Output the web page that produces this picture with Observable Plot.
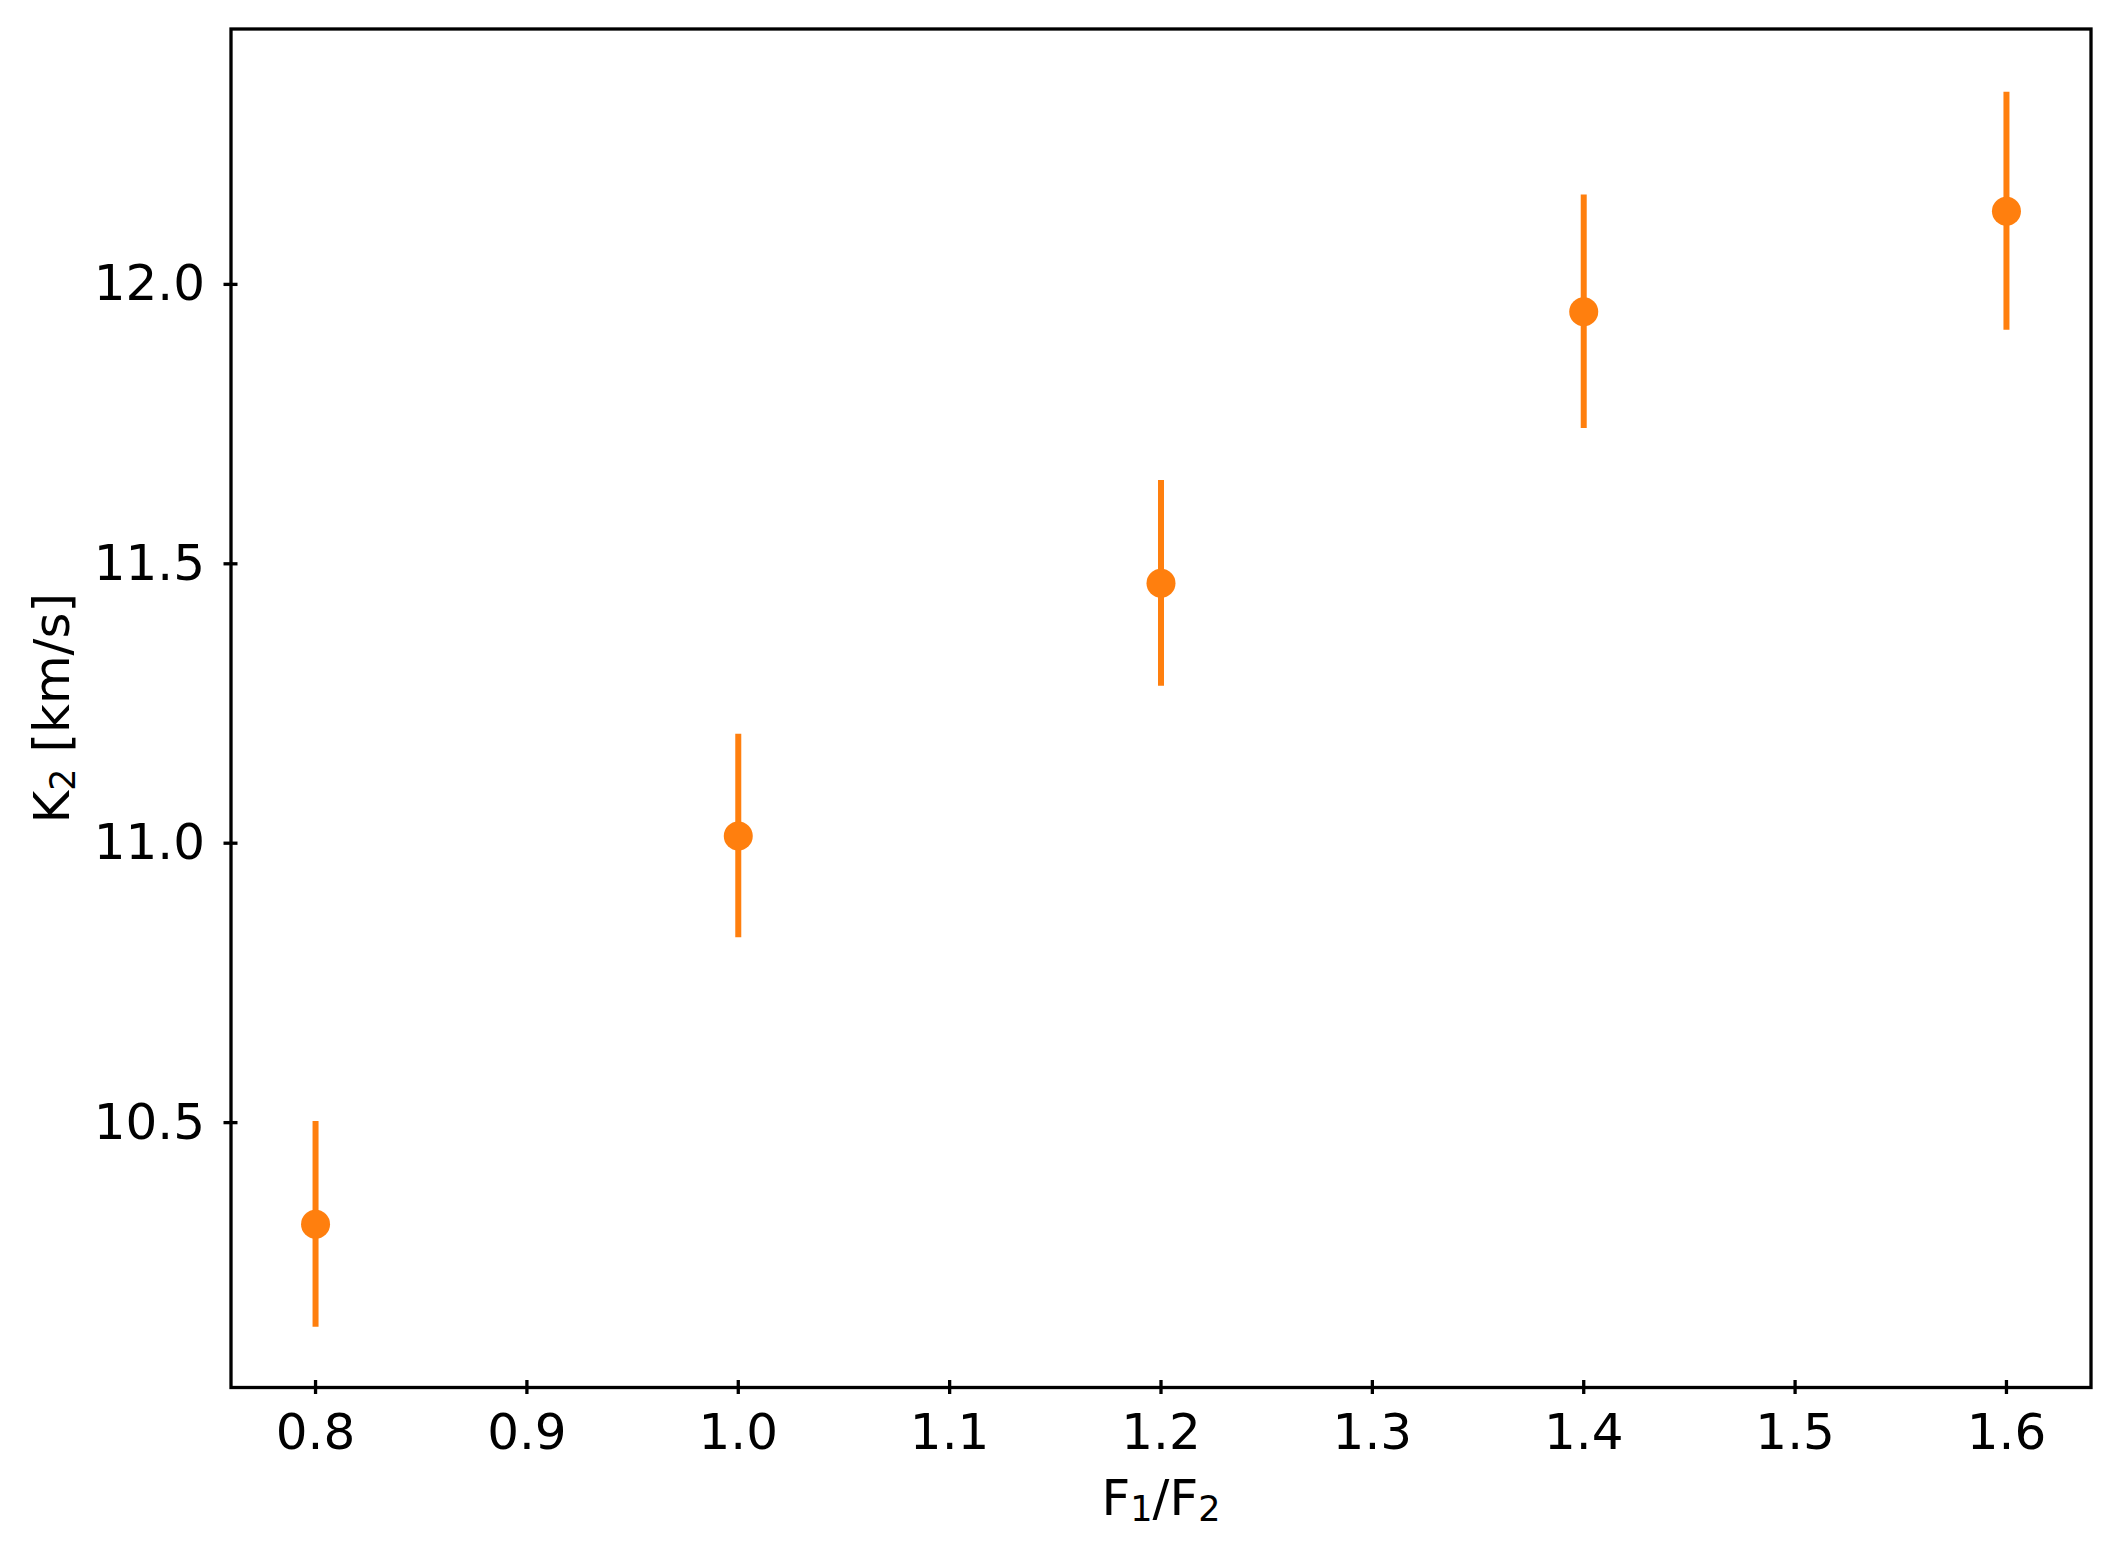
<!DOCTYPE html>
<html>
<head>
<meta charset="utf-8">
<script src="https://cdn.jsdelivr.net/npm/d3@7"></script>
<script src="https://cdn.jsdelivr.net/npm/@observablehq/plot@0.6"></script>
<style>
  html, body { margin: 0; padding: 0; background: #ffffff; }
  #chart { width: 2119px; height: 1553px; }
</style>
</head>
<body>
<div id="chart"></div>
<script>
// ---- data ----
const fluxRatio = [0.8, 1.0, 1.2, 1.4, 1.6];
const k2 = [10.318, 11.013, 11.465, 11.951, 12.131];
const k2Err = [0.184, 0.182, 0.184, 0.209, 0.213];
const xTicks = [0.8, 0.9, 1.0, 1.1, 1.2, 1.3, 1.4, 1.5, 1.6];
const yTicks = [10.5, 11.0, 11.5, 12.0];
const xLabel = "F1/F2";
const yLabel = "K2 [km/s]";

const rows = fluxRatio.map((x, i) => ({x, y: k2[i], lo: k2[i] - k2Err[i], hi: k2[i] + k2Err[i]}));

const orange = "#ff7f0e";
const fmt = d3.format(".1f");
const blank = () => "";

const chart = Plot.plot({
  width: 2119,
  height: 1553,
  marginLeft: 230.5,
  marginRight: 28.5,
  marginTop: 28.5,
  marginBottom: 166,
  style: {fontFamily: "'DejaVu Sans', sans-serif", fontSize: "50px", background: "#ffffff", color: "#000000", overflow: "visible"},
  x: {domain: [0.76, 1.64]},
  y: {domain: [10.026, 12.457]},
  marks: [
    Plot.ruleX(rows, {x: "x", y1: "lo", y2: "hi", stroke: orange, strokeWidth: 6}),
    Plot.dot(rows, {x: "x", y: "y", r: 14.5, fill: orange, stroke: "none"}),
    Plot.frame({stroke: "#000000", strokeWidth: 3.3}),
    Plot.axisX(xTicks, {anchor: "bottom", tickSize: 7, tickPadding: 19, strokeWidth: 3.3, tickFormat: fmt, label: null, fontSize: 50}),
    Plot.axisX(xTicks, {anchor: "bottom", tickSize: 7, dy: -7, strokeWidth: 3.3, tickFormat: blank, label: null}),
    Plot.axisY(yTicks, {anchor: "left", tickSize: 7, tickPadding: 19, strokeWidth: 3.3, tickFormat: fmt, label: null, fontSize: 50}),
    Plot.axisY(yTicks, {anchor: "left", tickSize: 7, dx: 7, strokeWidth: 3.3, tickFormat: blank, label: null}),
    Plot.text([xLabel], {frameAnchor: "bottom", textAnchor: "middle", dy: 111, lineAnchor: "middle", fontSize: 50, fill: "#000000"}),
    Plot.text([yLabel], {frameAnchor: "left", textAnchor: "middle", rotate: -90, dx: -178, lineAnchor: "middle", fontSize: 50, fill: "#000000"})
  ]
});

document.getElementById("chart").appendChild(chart);

// Render subscripts as real text with tspans
const NS = "http://www.w3.org/2000/svg";
function subscriptify(el, pieces) {
  while (el.firstChild) el.removeChild(el.firstChild);
  let down = false;
  for (const [s, sub] of pieces) {
    const t = document.createElementNS(NS, "tspan");
    t.textContent = s;
    if (sub) { t.setAttribute("font-size", "35"); t.setAttribute("dy", "6"); down = true; }
    else { t.setAttribute("font-size", "50"); if (down) { t.setAttribute("dy", "-6"); down = false; } }
    el.appendChild(t);
  }
}
chart.querySelectorAll("text").forEach(el => {
  if (el.textContent === xLabel) {
    subscriptify(el, [["F", 0], ["1", 1], ["/F", 0], ["2", 1]]);
  } else if (el.textContent === yLabel) {
    subscriptify(el, [["K", 0], ["2", 1], [" [km/s]", 0]]);
  }
});
</script>
</body>
</html>
